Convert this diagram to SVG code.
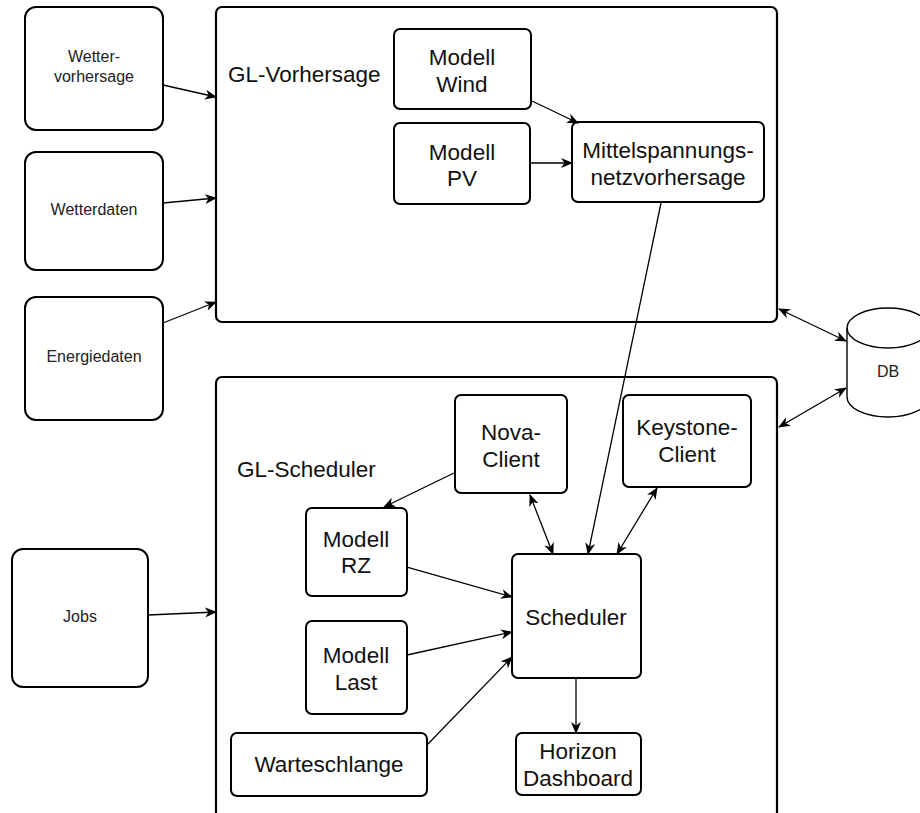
<svg xmlns="http://www.w3.org/2000/svg" width="920" height="813" viewBox="0 0 920 813">
  <style>
    .box { fill: #fff; stroke: #000; stroke-width: 2; }
    .frame { fill: #fff; stroke: #000; stroke-width: 2.2; }
    .lbl { font-family: "Liberation Sans", Arial, Helvetica, sans-serif; font-size: 22.5px; fill: #111; text-anchor: middle; }
    .small { font-family: "Liberation Sans", Arial, Helvetica, sans-serif; font-size: 16px; fill: #222; text-anchor: middle; }
    .title { font-family: "Liberation Sans", Arial, Helvetica, sans-serif; font-size: 22.5px; fill: #111; }
    .edge { fill: none; stroke: #000; stroke-width: 1.3; }
  </style>
  <defs>
    <marker id="arrow" viewBox="0 0 12 10" refX="11" refY="5" markerWidth="12" markerHeight="10" markerUnits="userSpaceOnUse" orient="auto-start-reverse">
      <path d="M0,0 L12,5 L0,10 L3.5,5 z" fill="#000"/>
    </marker>
  </defs>

  <!-- outer containers -->
  <g id="gl-vorhersage">
    <rect class="frame" x="216" y="7" width="561" height="315" rx="6"/>
    <text class="title" x="228" y="82">GL-Vorhersage</text>
  </g>
  <g id="gl-scheduler">
    <rect class="frame" x="216" y="377" width="561" height="460" rx="6"/>
    <text class="title" x="237" y="477">GL-Scheduler</text>
  </g>

  <!-- external inputs -->
  <g id="wettervorhersage">
    <rect class="box" x="25" y="7" width="138" height="123" rx="11"/>
    <text class="small" x="94" y="62">Wetter-</text>
    <text class="small" x="94" y="82">vorhersage</text>
  </g>
  <g id="wetterdaten">
    <rect class="box" x="25" y="152" width="138" height="118" rx="11"/>
    <text class="small" x="94" y="215">Wetterdaten</text>
  </g>
  <g id="energiedaten">
    <rect class="box" x="25" y="297" width="138" height="123" rx="11"/>
    <text class="small" x="94" y="362">Energiedaten</text>
  </g>
  <g id="jobs">
    <rect class="box" x="12" y="549" width="136" height="138" rx="11"/>
    <text class="small" x="80" y="622">Jobs</text>
  </g>

  <!-- database -->
  <g id="db">
    <path class="box" style="stroke-width:1.4" d="M847,328 A41,20 0 0 1 929,328 L929,397 A41,20 0 0 1 847,397 Z"/>
    <path d="M847,328 A41,20 0 0 0 929,328" fill="none" stroke="#000" stroke-width="1.4"/>
    <text class="small" x="888" y="377">DB</text>
  </g>

  <!-- forecast models -->
  <g id="modell-wind">
    <rect class="box" x="394" y="29" width="137" height="80" rx="6"/>
    <text class="lbl" x="462" y="65">Modell</text>
    <text class="lbl" x="462" y="92">Wind</text>
  </g>
  <g id="modell-pv">
    <rect class="box" x="394" y="123" width="136" height="81" rx="6"/>
    <text class="lbl" x="462" y="160">Modell</text>
    <text class="lbl" x="462" y="186">PV</text>
  </g>
  <g id="mittelspannung">
    <rect class="box" x="572" y="122" width="192" height="80" rx="6"/>
    <text class="lbl" x="668" y="158">Mittelspannungs-</text>
    <text class="lbl" x="668" y="185">netzvorhersage</text>
  </g>

  <!-- scheduler internals -->
  <g id="nova-client">
    <rect class="box" x="455" y="395" width="112" height="98" rx="6"/>
    <text class="lbl" x="511" y="440">Nova-</text>
    <text class="lbl" x="511" y="467">Client</text>
  </g>
  <g id="keystone-client">
    <rect class="box" x="623" y="395" width="128" height="92" rx="6"/>
    <text class="lbl" x="687" y="435">Keystone-</text>
    <text class="lbl" x="687" y="462">Client</text>
  </g>
  <g id="modell-rz">
    <rect class="box" x="306" y="508" width="101" height="88" rx="6"/>
    <text class="lbl" x="356" y="547">Modell</text>
    <text class="lbl" x="356" y="573">RZ</text>
  </g>
  <g id="modell-last">
    <rect class="box" x="306" y="621" width="101" height="93" rx="6"/>
    <text class="lbl" x="356" y="663">Modell</text>
    <text class="lbl" x="356" y="690">Last</text>
  </g>
  <g id="warteschlange">
    <rect class="box" x="231" y="733" width="196" height="63" rx="6"/>
    <text class="lbl" x="329" y="772">Warteschlange</text>
  </g>
  <g id="scheduler">
    <rect class="box" x="512" y="554" width="129" height="124" rx="6"/>
    <text class="lbl" x="576" y="625">Scheduler</text>
  </g>
  <g id="horizon-dashboard">
    <rect class="box" x="516" y="733" width="125" height="62" rx="6"/>
    <text class="lbl" x="578" y="759">Horizon</text>
    <text class="lbl" x="578" y="786">Dashboard</text>
  </g>

  <!-- connectors -->
  <g id="connectors">
    <line class="edge" x1="163" y1="85" x2="216" y2="97" marker-end="url(#arrow)"/>
    <line class="edge" x1="163" y1="203" x2="216" y2="198" marker-end="url(#arrow)"/>
    <line class="edge" x1="163" y1="323" x2="216" y2="302" marker-end="url(#arrow)"/>
    <line class="edge" x1="148" y1="615" x2="216" y2="612" marker-end="url(#arrow)"/>
    <line class="edge" x1="532" y1="101" x2="578" y2="123" marker-end="url(#arrow)"/>
    <line class="edge" x1="530" y1="163" x2="572" y2="163" marker-end="url(#arrow)"/>
    <line class="edge" x1="661" y1="203" x2="588" y2="554" marker-end="url(#arrow)"/>
    <line class="edge" x1="779" y1="309" x2="846" y2="341" marker-start="url(#arrow)" marker-end="url(#arrow)"/>
    <line class="edge" x1="779" y1="427" x2="846" y2="388" marker-start="url(#arrow)" marker-end="url(#arrow)"/>
    <line class="edge" x1="454" y1="473" x2="384" y2="507" marker-end="url(#arrow)"/>
    <line class="edge" x1="530" y1="495" x2="553" y2="554" marker-start="url(#arrow)" marker-end="url(#arrow)"/>
    <line class="edge" x1="657" y1="488" x2="617" y2="554" marker-start="url(#arrow)" marker-end="url(#arrow)"/>
    <line class="edge" x1="407" y1="567" x2="512" y2="597" marker-end="url(#arrow)"/>
    <line class="edge" x1="407" y1="655" x2="512" y2="632" marker-end="url(#arrow)"/>
    <line class="edge" x1="427" y1="745" x2="512" y2="657" marker-end="url(#arrow)"/>
    <line class="edge" x1="576" y1="678" x2="576" y2="733" marker-end="url(#arrow)"/>
  </g>
</svg>
